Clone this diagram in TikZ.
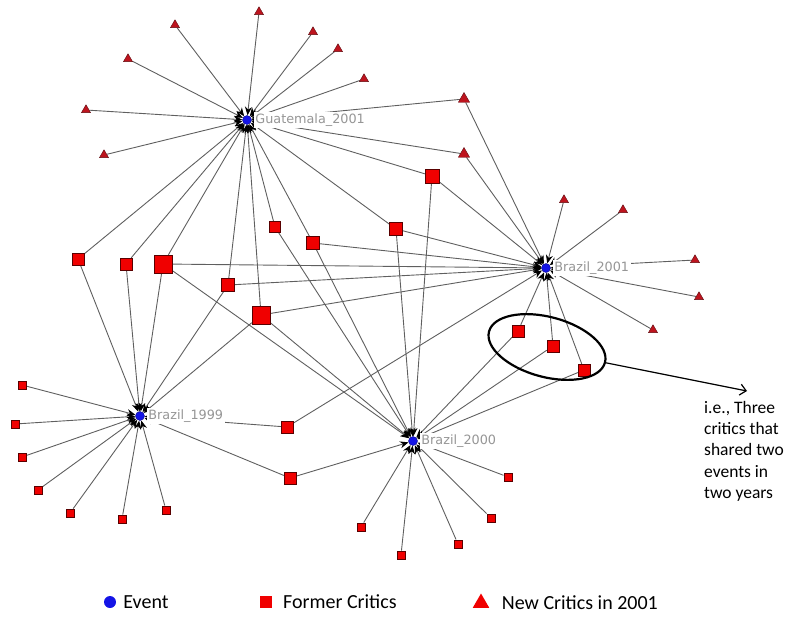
\documentclass[tikz,border=0pt]{standalone}
\usepackage{fontspec}
\newfontfamily\carlito{Carlito}
\newfontfamily\dejavu{DejaVu Sans}
\usetikzlibrary{arrows.meta,positioning,shapes.geometric,backgrounds}
\definecolor{evblue}{RGB}{20,20,230}
\definecolor{critred}{RGB}{240,0,0}
\definecolor{newred}{RGB}{190,20,30}
\definecolor{tiegray}{RGB}{95,95,95}
\definecolor{labgray}{RGB}{150,150,150}

\begin{document}
\begin{tikzpicture}[x=1pt,y=-1pt,
hub/.style={circle,fill=evblue,draw=evblue!60!black,inner sep=0pt,minimum size=9pt},
hublab/.style={fill=white,text=labgray,inner sep=1.5pt,font=\dejavu\fontsize{12.8}{15}\selectfont},
sq/.style={rectangle,fill=critred,draw=red!35!black,line width=0.4pt,inner sep=0pt,minimum size=#1},
sq/.default=12pt,
tri/.style={regular polygon,regular polygon sides=3,fill=newred,draw=newred!50!black,line width=0.4pt,inner sep=0pt,minimum size=#1},
tri/.default=10.5pt,
tie/.style={draw=tiegray,line width=0.9pt,-{Stealth[black,length=8.5pt,width=7pt]}},
legtx/.style={inner sep=0pt,font=\carlito\fontsize{20}{24}\selectfont}]
\useasboundingbox (0,0) rectangle (787,616);

% events
\node[hub] (gua01) at (247,120) {};
\node[hub] (bra01) at (546,268) {};
\node[hub] (bra99) at (140,416) {};
\node[hub] (bra00) at (413,441) {};

% new critics in 2001
\node[tri] (gt1) at (259,12) {};
\node[tri] (gt2) at (175,25) {};
\node[tri] (gt3) at (128,59) {};
\node[tri] (gt4) at (86,110) {};
\node[tri] (gt5) at (104,155) {};
\node[tri] (gt6) at (313,32) {};
\node[tri] (gt7) at (338,49) {};
\node[tri] (gt8) at (364,79) {};
\node[tri=13pt] (st1) at (464,99) {};
\node[tri=13pt] (st2) at (464,154) {};
\node[tri] (bt1) at (564,200) {};
\node[tri] (bt2) at (623,210) {};
\node[tri] (bt3) at (695,260) {};
\node[tri] (bt4) at (699,297) {};
\node[tri] (bt5) at (653,330) {};

% former critics
\node[sq] (c1) at (78,259) {};
\node[sq] (c2) at (126,264) {};
\node[sq=18pt] (c3) at (163,264) {};
\node[sq=13pt] (c4) at (228,285) {};
\node[sq=18pt] (c5) at (261,315) {};
\node[sq=11pt] (c6) at (275,227) {};
\node[sq=13pt] (c7) at (313,243) {};
\node[sq=13pt] (c8) at (396,229) {};
\node[sq=14pt] (c9) at (432,176) {};
\node[sq] (c10) at (287,427) {};
\node[sq] (c11) at (290,478) {};
\node[sq] (k1) at (518,331) {};
\node[sq] (k2) at (553,346) {};
\node[sq] (k3) at (584,370) {};
\foreach \x/\y [count=\i] in {22/385,15/424,22/457,38/490,70/513,122/519,166/510}
  \node[sq=8.5pt] (f99-\i) at (\x,\y) {};
\foreach \x/\y [count=\i] in {361/527,401/555,458/544,491/518,508/477}
  \node[sq=8.5pt] (f00-\i) at (\x,\y) {};

% ties (critic -> event)
\begin{scope}[on background layer]
\foreach \n in {gt1,gt2,gt3,gt4,gt5,gt6,gt7,gt8,st1,st2,c1,c2,c3,c4,c5,c6,c7,c8,c9}
  \draw[tie] (\n) -- (gua01);
\foreach \n in {st1,st2,bt1,bt2,bt3,bt4,bt5,c3,c4,c5,c7,c8,c9,c10,k1,k2,k3}
  \draw[tie] (\n) -- (bra01);
\foreach \n in {c1,c2,c3,c4,c5,c10,c11,f99-1,f99-2,f99-3,f99-4,f99-5,f99-6,f99-7}
  \draw[tie] (\n) -- (bra99);
\foreach \n in {c3,c5,c6,c7,c8,c9,c11,k1,k2,k3,f00-1,f00-2,f00-3,f00-4,f00-5}
  \draw[tie] (\n) -- (bra00);
\end{scope}

\node[hublab,right=2pt of gua01] (gua01lab) {Guatemala\_2001};
\node[hublab,right=2pt of bra01] (bra01lab) {Brazil\_2001};
\node[hublab,right=2pt of bra99] (bra99lab) {Brazil\_1999};
\node[hublab,right=2pt of bra00] (bra00lab) {Brazil\_2000};

% highlighted group
\node[ellipse,draw,line width=2.2pt,inner sep=0pt,minimum width=120pt,minimum height=60pt,rotate=-15] (grp) at (547,347) {};
\coordinate (notetip) at (747,391);
\draw[-{Straight Barb[length=6pt,width=11pt]},line width=1.2pt] (grp.east) -- (notetip);
\node[anchor=north west,align=left,inner sep=0pt,font=\carlito\fontsize{17.5}{21.3}\selectfont] (note) at (704,401) {i.e., Three\\critics that\\shared two\\events in\\two years};

% legend
\node[circle,fill=evblue,inner sep=0pt,minimum size=12pt] (lgev) at (110,602) {};
\node[legtx,right=7pt of lgev] (lgevtx) {Event};
\node[rectangle,fill=critred,inner sep=0pt,minimum size=11.5pt] (lgold) at (266,602) {};
\node[legtx,right=11pt of lgold] (lgoldtx) {Former Critics};
\node[regular polygon,regular polygon sides=3,fill=critred,inner sep=0pt,minimum size=19pt] (lgnew) at (481,603) {};
\node[legtx,right=15pt of lgnew] (lgnewtx) {New Critics in 2001};
\end{tikzpicture}
\end{document}
